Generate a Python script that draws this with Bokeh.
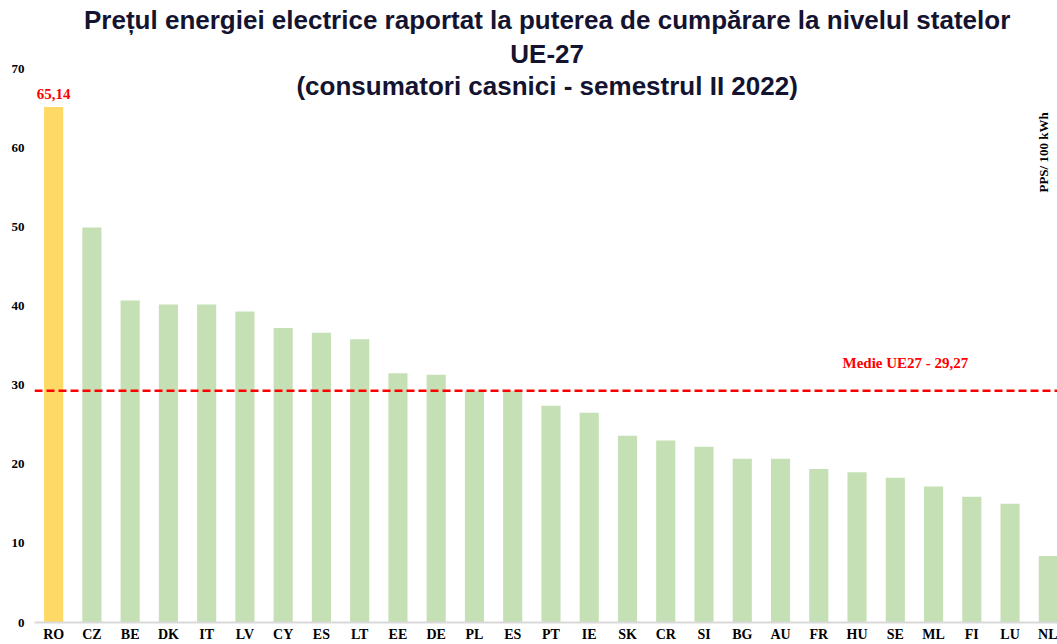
from bokeh.plotting import figure
from bokeh.models import Range1d, FixedTicker, Span, Label
from bokeh.embed import file_html
from bokeh.resources import INLINE

countries = ["RO", "CZ", "BE", "DK", "IT", "LV", "CY", "ES", "LT", "EE", "DE", "PL", "ES",
             "PT", "IE", "SK", "CR", "SI", "BG", "AU", "FR", "HU", "SE", "ML", "FI", "LU", "NL"]
values = [65.14, 49.9, 40.7, 40.2, 40.2, 39.3, 37.2, 36.6, 35.8, 31.5, 31.3, 29.3, 29.3,
          27.4, 26.5, 23.6, 23.0, 22.2, 20.7, 20.7, 19.4, 19.0, 18.3, 17.2, 15.9, 15.0, 8.4]
mean_value = 29.27
y_ticks = [0, 10, 20, 30, 40, 50, 60, 70]
title_lines = ["Prețul energiei electrice raportat la puterea de cumpărare la nivelul statelor",
               "UE-27",
               "(consumatori casnici - semestrul II 2022)"]

colors = ["#FFD966" if i == 0 else "#C5E0B4" for i in range(len(countries))]
xs = list(range(len(countries)))

p = figure(width=1057, height=644, output_backend="svg", toolbar_location=None,
           x_range=Range1d(-0.5, 26.24), y_range=Range1d(0, 78.6),
           min_border_left=34, min_border_right=0, min_border_top=0, min_border_bottom=22)
p.outline_line_color = None
p.background_fill_color = "white"
p.xgrid.grid_line_color = None
p.ygrid.grid_line_color = None

p.vbar(x=xs, top=values, width=0.5, color=colors, line_color=None)

mean = Span(location=mean_value, dimension="width", line_color="#FF0000",
            line_dash="8 4", line_width=2.5)
p.add_layout(mean)

# axes
p.xaxis.ticker = FixedTicker(ticks=xs)
p.xaxis.major_label_overrides = {i: c for i, c in enumerate(countries)}
p.xaxis.axis_line_color = "#D9D9D9"
p.xaxis.axis_line_width = 2
p.xaxis.major_tick_line_color = None
p.xaxis.minor_tick_line_color = None
p.xaxis.major_tick_out = 0
p.xaxis.major_tick_in = 0
p.xaxis.minor_tick_out = 0
p.xaxis.major_label_text_font = "Liberation Serif"
p.xaxis.major_label_text_font_style = "bold"
p.xaxis.major_label_text_font_size = "14px"
p.xaxis.major_label_text_color = "#000000"
p.xaxis.major_label_standoff = 4

p.yaxis.ticker = FixedTicker(ticks=y_ticks)
p.yaxis.axis_line_color = None
p.yaxis.major_tick_line_color = None
p.yaxis.minor_tick_line_color = None
p.yaxis.major_tick_out = 0
p.yaxis.major_tick_in = 0
p.yaxis.minor_tick_out = 0
p.yaxis.major_label_text_font = "Liberation Serif"
p.yaxis.major_label_text_font_style = "bold"
p.yaxis.major_label_text_font_size = "13px"
p.yaxis.major_label_text_color = "#000000"
p.yaxis.major_label_standoff = 10

# labels
p.add_layout(Label(x=0, y=66.2, text="65,14", text_align="center", text_baseline="bottom",
                   text_font="Liberation Serif", text_font_style="bold",
                   text_font_size="15px", text_color="#FF0000"))
p.add_layout(Label(x=20.62, y=31.8, text="Medie UE27 - 29,27", text_align="left",
                   text_baseline="bottom", text_font="Liberation Serif", text_font_style="bold",
                   text_font_size="15px", text_color="#FF0000"))
p.add_layout(Label(x=25.88, y=59.4, text="PPS/ 100 kWh", angle=1.5708, text_align="center",
                   text_baseline="middle", text_font="Liberation Serif", text_font_style="bold",
                   text_font_size="13px", text_color="#000000"))

title_y = [76.1, 71.84, 67.8]
for t, ty in zip(title_lines, title_y):
    p.add_layout(Label(x=12.9, y=ty, text=t, text_align="center", text_baseline="middle",
                       text_font="Liberation Sans", text_font_style="bold",
                       text_font_size="26px", text_color="#141430"))

open("out.html", "w").write(file_html(p, INLINE))
